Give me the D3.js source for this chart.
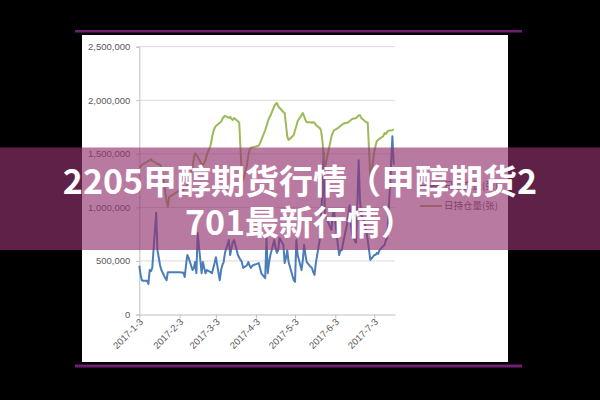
<!DOCTYPE html>
<html><head><meta charset="utf-8">
<script src="https://cdn.jsdelivr.net/npm/d3@7"></script>
<style>html,body{margin:0;padding:0;background:#000;}svg{display:block}</style>
</head><body><svg id="c" width="600" height="400"></svg>
<script>
// trading days of 2017 (month-day)
const dates = ["1-3","1-4","1-5","1-6","1-9","1-10","1-11","1-12","1-13","1-16","1-17","1-18","1-19","1-20","1-23","1-24","1-25","1-26",
"2-3","2-6","2-7","2-8","2-9","2-10","2-13","2-14","2-15","2-16","2-17","2-20","2-21","2-22","2-23","2-24","2-27","2-28",
"3-1","3-2","3-3","3-6","3-7","3-8","3-9","3-10","3-13","3-14","3-15","3-16","3-17","3-20","3-21","3-22","3-23","3-24","3-27","3-28","3-29","3-30","3-31",
"4-5","4-6","4-7","4-10","4-11","4-12","4-13","4-14","4-17","4-18","4-19","4-20","4-21","4-24","4-25","4-26","4-27","4-28",
"5-2","5-3","5-4","5-5","5-8","5-9","5-10","5-11","5-12","5-15","5-16","5-17","5-18","5-19","5-22","5-23","5-24","5-25","5-26","5-31",
"6-1","6-2","6-5","6-6","6-7","6-8","6-9","6-12","6-13","6-14","6-15","6-16","6-19","6-20","6-21","6-22","6-23","6-26","6-27","6-28","6-29","6-30",
"7-3","7-4","7-5","7-6","7-7","7-10","7-11","7-12","7-13","7-14","7-17","7-18"];
// 日成交量 (thousand contracts)
const volume = [455,370,320,315,315,285,415,405,435,950,600,530,460,415,340,320,395,395,
395,390,350,460,555,530,415,435,490,385,760,385,490,435,385,415,395,385,
435,480,535,320,415,460,490,575,695,555,620,675,695,555,530,510,490,435,460,490,455,435,455,
480,435,385,340,715,385,490,555,695,620,575,600,715,650,480,530,600,490,
320,305,695,555,415,510,650,555,490,445,435,395,370,480,695,930,1115,1510,930,790,
930,975,650,555,600,600,670,840,930,1020,840,740,670,1020,1440,1070,930,840,770,695,600,510,
555,555,575,565,600,640,650,695,715,930,1665,1400];
// 日持仓量 (thousand contracts)
const openInterest = [1370,1380,1395,1405,1425,1435,1440,1450,1435,1415,1405,1405,1395,1375,1150,1060,1005,1095,
1160,1160,1180,1200,1210,1230,1370,1460,1505,1490,1470,1405,1395,1415,1440,1490,1580,1650,
1705,1740,1760,1790,1800,1825,1845,1855,1835,1845,1825,1815,1835,1805,1790,1535,1300,1255,1395,1490,1535,1560,1560,
1575,1600,1630,1720,1760,1800,1835,1855,1945,1965,1975,1945,1930,1890,1880,1770,1660,1630,
1675,1720,1760,1805,1860,1880,1850,1815,1795,1795,1790,1795,1790,1770,1740,1720,1630,1490,1370,1660,
1695,1720,1740,1750,1760,1770,1780,1790,1795,1805,1815,1825,1835,1845,1860,1860,1835,1805,1795,1790,1535,1255,
1515,1575,1620,1630,1640,1665,1695,1685,1705,1715,1720,1730];
const yTicks = [0,500000,1000000,1500000,2000000,2500000];
const xTicks = ["1-3","2-3","3-3","4-3","5-3","6-3","7-3"];
const xEnd = "7-19";
const seriesNames = ["日成交量(张)","日持仓量(张)"];
const seriesColors = ["#4a7ebb","#9bbb59"];
const titleLines = ["2205甲醇期货行情（甲醇期货2","701最新行情）"];

const parse = d3.timeParse("%Y-%m-%d");
const pd = s => parse("2017-" + s);
const svg = d3.select("#c");

svg.append("rect").attr("width",600).attr("height",400).attr("fill","#000");
svg.append("rect").attr("x",82).attr("y",35).attr("width",426).attr("height",327).attr("fill","#fff");
svg.append("rect").attr("x",75).attr("y",30).attr("width",447).attr("height",2.5).attr("fill","#701d74");
svg.append("rect").attr("x",75).attr("y",364.5).attr("width",447).attr("height",3).attr("fill","#701d74");

const x = d3.scaleTime().domain([pd(xTicks[0]), pd(xEnd)]).range([139.3, 395]);
const y = d3.scaleLinear().domain([0, 2500000]).range([314.5, 46.7]);

// gridlines
svg.append("g").selectAll("line").data(yTicks.slice(1)).join("line")
  .attr("x1",139.3).attr("x2",395).attr("y1",d=>y(d)).attr("y2",d=>y(d))
  .attr("stroke","#d9d9d9").attr("stroke-width",1);

const font = "'Liberation Sans', Arial, sans-serif";
const yAxis = svg.append("g").attr("transform","translate(139.3,0)")
  .call(d3.axisLeft(y).tickValues(yTicks).tickFormat(d3.format(",")).tickSize(3).tickPadding(6));
yAxis.select(".domain").attr("stroke","#bfbfbf");
yAxis.selectAll(".tick line").attr("stroke","#bfbfbf");
yAxis.selectAll("text").attr("fill","#595959").style("font-family",font).style("font-size","9.5px");

const fmtX = d => `2017-${d.getMonth()+1}-${d.getDate()}`;
const xAxis = svg.append("g").attr("transform","translate(0,314.5)")
  .call(d3.axisBottom(x).tickValues(xTicks.map(pd)).tickFormat(fmtX).tickSize(4).tickSizeOuter(0));
xAxis.select(".domain").attr("stroke","#bfbfbf");
xAxis.selectAll(".tick line").attr("stroke","#bfbfbf");
xAxis.selectAll("text").attr("fill","#595959").style("font-family",font).style("font-size","9.5px")
  .attr("text-anchor","end").attr("dy",null).attr("y",null)
  .attr("transform","translate(4,8) rotate(-45)");

const series = [volume, openInterest];
const line = d3.line().x(d=>x(d.date)).y(d=>y(d.v));
series.forEach((vals,i)=>{
  const data = dates.map((s,j)=>({date:pd(s), v:vals[j]*1000}));
  svg.append("path").datum(data).attr("d",line).attr("fill","none")
    .attr("stroke",seriesColors[i]).attr("stroke-width",2).attr("stroke-linejoin","round");
});

// legend
const lg = svg.append("g").selectAll("g").data(seriesNames).join("g")
  .attr("transform",(d,i)=>`translate(420,${186+i*20})`);
lg.append("line").attr("x1",0).attr("x2",22).attr("stroke",(d,i)=>seriesColors[i]).attr("stroke-width",2);
lg.append("text").attr("x",24).attr("dy","0.35em").text(d=>d).attr("fill","#595959")
  .style("font-family","'Noto Sans CJK SC', sans-serif").style("font-size","9.5px");

// banner
svg.append("rect").attr("x",0).attr("y",147.5).attr("width",600).attr("height",102.5).attr("fill","rgba(147,51,111,0.65)");
svg.append("g").selectAll("text").data(titleLines).join("text")
  .attr("x",300).attr("y",(d,i)=>194+i*41).attr("text-anchor","middle")
  .attr("fill","#fff").style("font-family","'Noto Sans CJK SC', sans-serif")
  .style("font-weight","700").style("font-size","34px").text(d=>d);
</script></body></html>
